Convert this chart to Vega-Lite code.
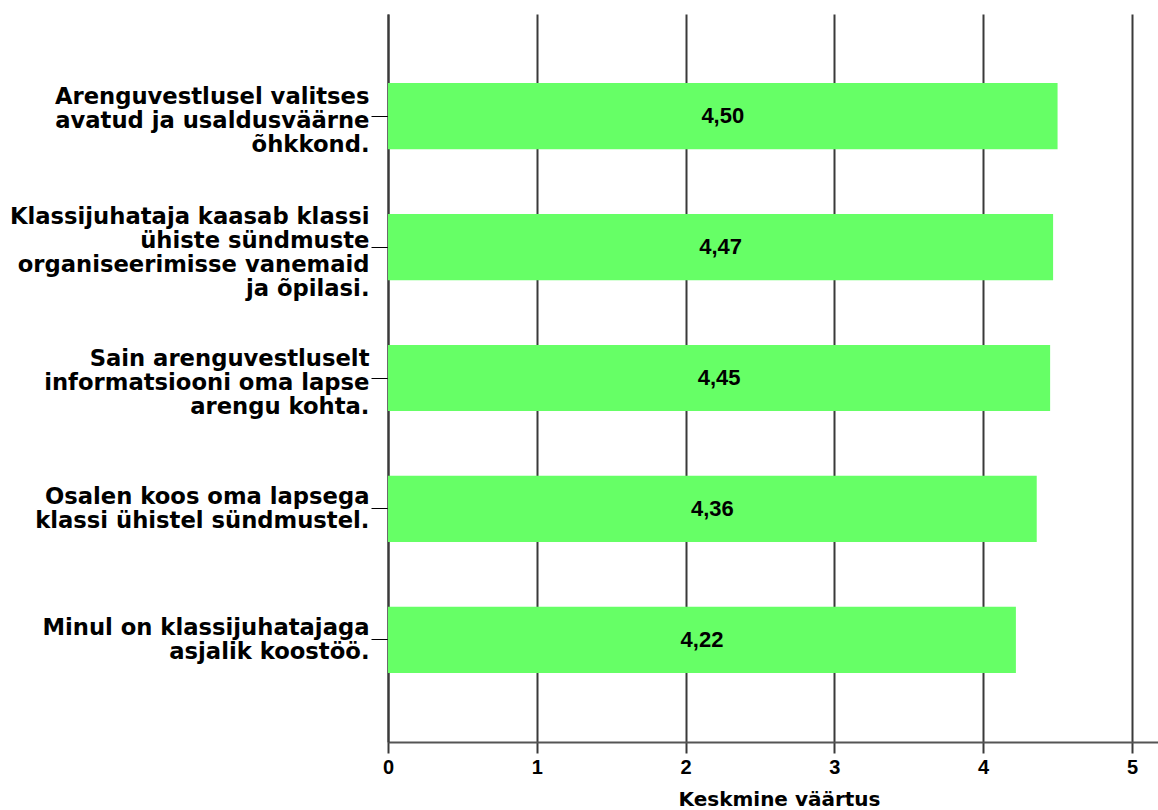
{
  "$schema": "https://vega.github.io/schema/vega-lite/v6.json",
  "autosize": {"type": "none"},
  "padding": {"left": 388, "top": 14, "right": 0, "bottom": 68},
  "width": 770,
  "height": 728,
  "background": "white",
  "config": {
    "view": {"stroke": null},
    "locale": {"number": {"decimal": ",", "thousands": ".", "grouping": [3], "currency": ["", " €"]}}
  },
  "data": {
    "values": [
      {"item": "Arenguvestlusel valitses|avatud ja usaldusväärne|õhkkond.", "value": 4.50},
      {"item": "Klassijuhataja kaasab klassi|ühiste sündmuste|organiseerimisse vanemaid|ja õpilasi.", "value": 4.47},
      {"item": "Sain arenguvestluselt|informatsiooni oma lapse|arengu kohta.", "value": 4.45},
      {"item": "Osalen koos oma lapsega|klassi ühistel sündmustel.", "value": 4.36},
      {"item": "Minul on klassijuhatajaga|asjalik koostöö.", "value": 4.22}
    ]
  },
  "encoding": {
    "y": {
      "field": "item",
      "type": "nominal",
      "sort": null,
      "scale": {"paddingInner": 0.495, "paddingOuter": 0.528},
      "axis": {
        "title": null,
        "labelExpr": "split(datum.label, '|')",
        "labelFont": "DejaVu Sans",
        "labelFontWeight": "bold",
        "labelFontSize": 22.7,
        "labelLineHeight": 24,
        "labelColor": "black",
        "labelLimit": 0,
        "labelPadding": 2,
        "labelOffset": {
          "condition": [
            {"test": "length(split(datum.value, '|')) == 4", "value": -30},
            {"test": "length(split(datum.value, '|')) == 3", "value": -19},
            {"test": "length(split(datum.value, '|')) == 2", "value": -12}
          ],
          "value": 0
        },
        "tickSize": 17,
        "tickColor": "black",
        "tickWidth": 1,
        "domainColor": "#3a3a3a",
        "domainWidth": 2,
        "grid": false
      }
    }
  },
  "resolve": {"scale": {"x": "independent"}},
  "layer": [
    {
      "mark": {"type": "bar", "color": "#66ff66"},
      "encoding": {
        "x": {
          "field": "value",
          "type": "quantitative",
          "scale": {"domain": [0, 5.175], "nice": false, "zero": true},
          "axis": {
            "title": "Keskmine väärtus",
            "values": [0, 1, 2, 3, 4, 5],
            "format": "d",
            "grid": true,
            "gridColor": "#3a3a3a",
            "gridWidth": 2,
            "gridOpacity": 1,
            "domainColor": "#555555",
            "domainWidth": 2,
            "tickColor": "#3a3a3a",
            "tickWidth": 2,
            "tickSize": 11,
            "labelPadding": 4,
            "labelFont": "Liberation Sans",
            "labelFontWeight": "bold",
            "labelFontSize": 20,
            "labelColor": "black",
            "labelFlush": false,
            "titleFont": "DejaVu Sans",
            "titleFontWeight": "bold",
            "titleFontSize": 20,
            "titleColor": "black",
            "titlePadding": 12,
            "titleX": 391
          }
        }
      }
    },
    {
      "mark": {"type": "text", "font": "Liberation Sans", "fontWeight": "bold", "fontSize": 22, "color": "black", "align": "center", "baseline": "middle"},
      "encoding": {
        "x": {"field": "value", "type": "quantitative", "scale": {"domain": [0, 10.35], "nice": false, "zero": true}, "axis": null},
        "text": {"field": "value", "type": "quantitative", "format": ".2f"}
      }
    }
  ]
}
